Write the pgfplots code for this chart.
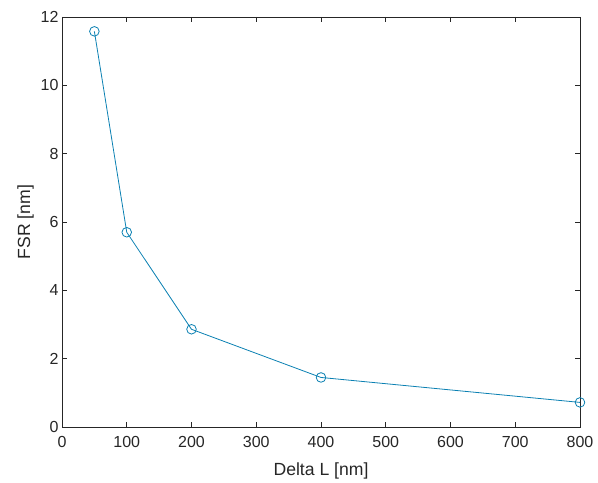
\documentclass[border=0pt]{standalone}
\usepackage{pgfplots}
\pgfplotsset{compat=1.18}
\usepackage{fontspec}
\setmainfont{Liberation Sans}
\definecolor{mblue}{rgb}{0.04,0.5,0.7}
\definecolor{axgray}{rgb}{0.15,0.15,0.15}
\begin{document}
\begin{tikzpicture}[x=1pt,y=1pt]
\begin{axis}[
  scale only axis,
  width=518pt, height=410pt,
  xmin=0, xmax=800, ymin=0, ymax=12,
  xtick={0,100,...,800}, ytick={0,2,...,12},
  tick align=inside,
  major tick length=5pt,
  axis line style={axgray, line width=0.6pt},
  tick style={axgray, line width=0.6pt},
  every tick label/.append style={font=\fontsize{16}{18}\selectfont, text=axgray},
  xticklabel style={yshift=-6pt},
  /pgf/number format/assume math mode=true,
  xlabel={Delta L [nm]}, ylabel={FSR [nm]},
  label style={font=\fontsize{17.6}{20}\selectfont, text=axgray},
  xlabel style={yshift=-8pt},
  ylabel style={yshift=0pt},
  clip=false,
]
\addplot[color=mblue, line width=0.8pt, mark=o, mark size=4.8pt, mark options={line width=0.8pt}]
coordinates {(50,11.58) (100,5.70) (200,2.86) (400,1.45) (800,0.72)};
\end{axis}
\path ([shift={(-62pt,-52pt)}]current axis.south west) rectangle ([shift={(18pt,17pt)}]current axis.north east);
\end{tikzpicture}
\end{document}
